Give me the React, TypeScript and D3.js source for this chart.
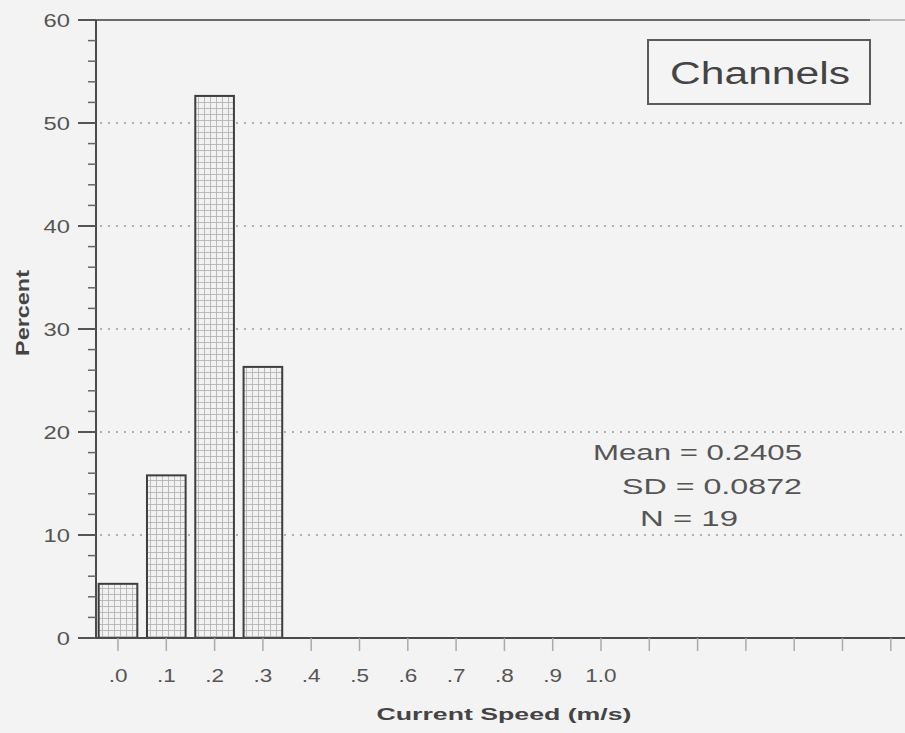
import React from 'react';
import * as d3 from 'd3';

const speeds = [0.0, 0.1, 0.2, 0.3];
const percents = [5.26, 15.79, 52.63, 26.32];
const xTickValues = [0, 0.1, 0.2, 0.3, 0.4, 0.5, 0.6, 0.7, 0.8, 0.9, 1.0, 1.1, 1.2, 1.3, 1.4, 1.5, 1.6];
const xTickLabels = ['.0', '.1', '.2', '.3', '.4', '.5', '.6', '.7', '.8', '.9', '1.0'];
const yTickValues = [0, 10, 20, 30, 40, 50, 60];
const stats = ['Mean = 0.2405', 'SD = 0.0872', 'N = 19'];
const legendLabel = 'Channels';

const W = 905;
const H = 733;
const left = 96;
const top = 20;
const bottom = 638;

const font = '"Liberation Sans", Arial, sans-serif';
const ink = '#555';

const App = () => {
  const x = d3.scaleLinear().domain([0, 1]).range([118, 601]);
  const y = d3.scaleLinear().domain([0, 60]).range([bottom, top]);
  const barW = x(0.08) - x(0);
  const minor = d3.range(0, 60, 2).filter((v) => v % 10 !== 0);
  const grid = yTickValues.filter((v) => v > 0 && v < 60);

  return (
    <div style={{ position: 'fixed', left: 0, top: 0 }}>
      <svg width={W} height={H} style={{ display: 'block', background: '#f3f3f3' }}>
        <defs>
          <pattern id="mesh" width="6" height="6" patternUnits="userSpaceOnUse">
            <rect width="6" height="6" fill="#f2f2f2" />
            <path d="M0 0.5H6M0.5 0V6" stroke="#b4b4b4" strokeWidth="0.9" />
          </pattern>
        </defs>

        {/* dotted gridlines */}
        {grid.map((v) => (
          <line key={v} x1={left + 4} x2={W} y1={y(v)} y2={y(v)}
            stroke="#9a9a9a" strokeWidth={1.3} strokeDasharray="2,6" />
        ))}

        {/* frame top */}
        <line x1={left} x2={870} y1={top} y2={top} stroke="#6a6a6a" strokeWidth={2} />
        <line x1={870} x2={W} y1={top} y2={top} stroke="#bbb" strokeWidth={2} />

        {/* bars */}
        {speeds.map((s, i) => (
          <rect key={s} x={x(s) - barW / 2} y={y(percents[i])} width={barW}
            height={bottom - y(percents[i])} fill="url(#mesh)" stroke="#3e3e3e" strokeWidth={2} />
        ))}

        {/* y axis */}
        <line x1={left} x2={left} y1={top} y2={bottom} stroke="#4a4a4a" strokeWidth={2} />
        {yTickValues.map((v) => (
          <g key={v}>
            <line x1={left - 18} x2={left} y1={y(v)} y2={y(v)} stroke="#555" strokeWidth={2} />
            <text x={0} y={0} transform={`translate(70,${y(v) + 7}) scale(1.25,1)`} textAnchor="end"
              fontFamily={font} fontSize={19} fill={ink}>{v}</text>
          </g>
        ))}
        {minor.map((v) => (
          <line key={v} x1={left - 8} x2={left} y1={y(v)} y2={y(v)} stroke="#666" strokeWidth={1.5} />
        ))}

        {/* x axis */}
        <line x1={left} x2={W} y1={bottom} y2={bottom} stroke="#4a4a4a" strokeWidth={2} />
        {xTickValues.map((v, i) => (
          <g key={v}>
            <line x1={x(v)} x2={x(v)} y1={bottom} y2={bottom + 13} stroke="#aaa" strokeWidth={1.5} />
            {xTickLabels[i] && (
              <text x={0} y={0} transform={`translate(${x(v)},${bottom + 44}) scale(1.25,1)`} textAnchor="middle"
                fontFamily={font} fontSize={18} fill={ink}>{xTickLabels[i]}</text>
            )}
          </g>
        ))}

        {/* axis titles */}
        <text x={504} y={720} textAnchor="middle" fontFamily={font} fontSize={17} fontWeight="bold"
          fill="#444" textLength={255} lengthAdjust="spacingAndGlyphs">Current Speed (m/s)</text>
        <text transform="translate(29,313) rotate(-90)" textAnchor="middle" fontFamily={font} fontSize={18}
          fontWeight="bold" fill="#444" textLength={86} lengthAdjust="spacingAndGlyphs">Percent</text>

        {/* legend */}
        <rect x={648} y={40} width={222} height={64} fill="#f4f4f4" stroke="#5a5a5a" strokeWidth={2} />
        <text x={760} y={84} textAnchor="middle" fontFamily={font} fontSize={31} fill="#444"
          textLength={180} lengthAdjust="spacingAndGlyphs">{legendLabel}</text>

        {/* stats */}
        <text x={593} y={460} fontFamily={font} fontSize={22} fill={ink} textLength={209} lengthAdjust="spacingAndGlyphs">{stats[0]}</text>
        <text x={622} y={494} fontFamily={font} fontSize={22} fill={ink} textLength={180} lengthAdjust="spacingAndGlyphs">{stats[1]}</text>
        <text x={640} y={526} fontFamily={font} fontSize={22} fill={ink} textLength={98} lengthAdjust="spacingAndGlyphs">{stats[2]}</text>
      </svg>
    </div>
  );
};

export default App;
